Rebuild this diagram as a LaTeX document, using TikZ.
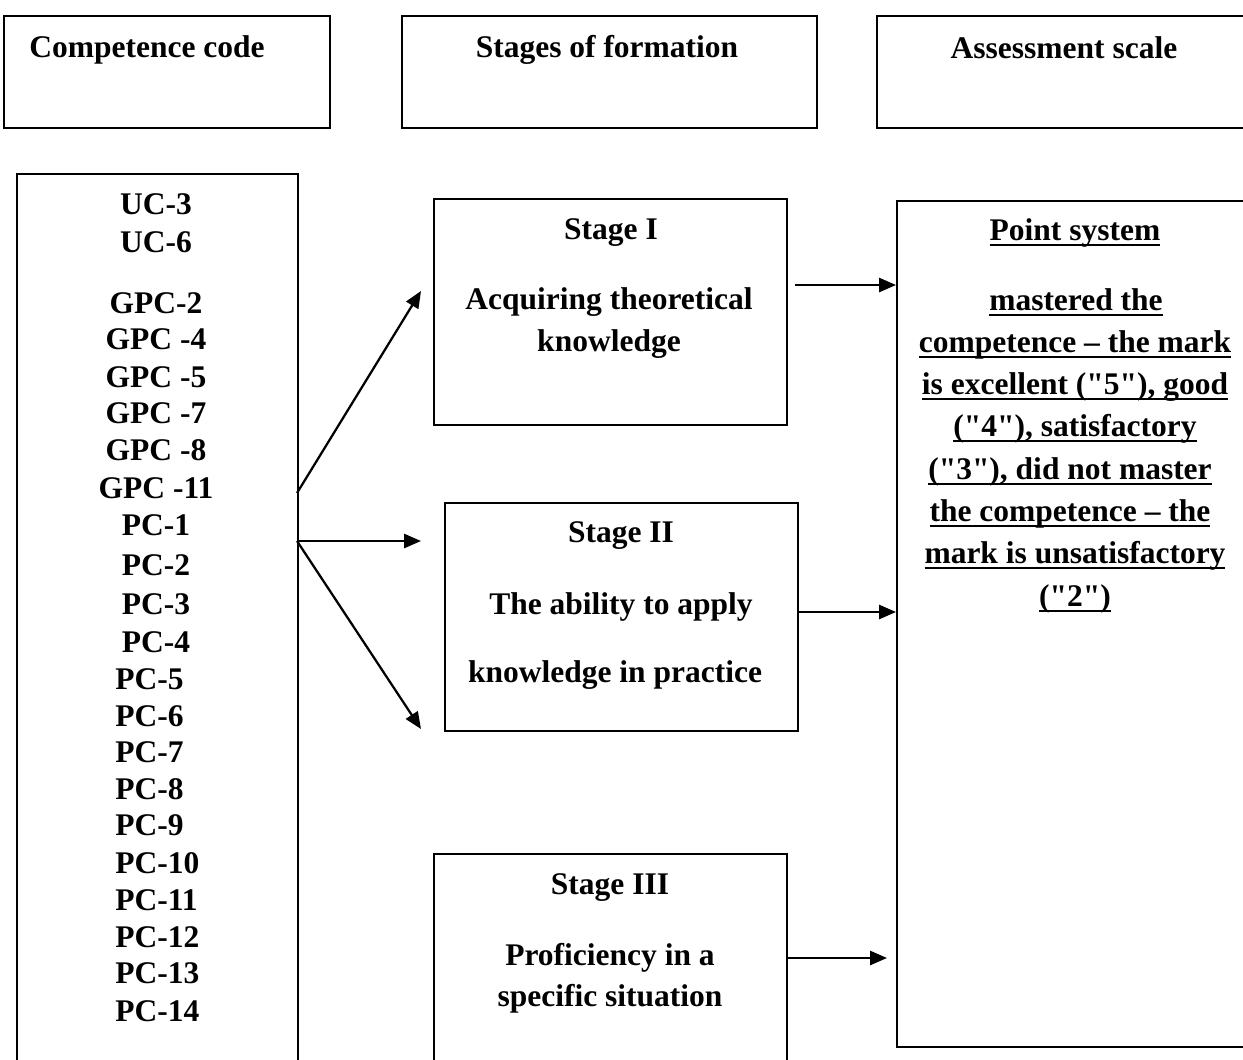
\documentclass[tikz,border=0pt]{standalone}
\usepackage{fontspec}
\setmainfont{Liberation Serif}
\newfontfamily\plainqfont{Liberation Serif}
\usetikzlibrary{arrows.meta}

% underline at a fixed depth below the baseline
\newcommand\ulbox[1]{\setbox0\hbox{#1}\rlap{\rule[-4pt]{\wd0}{1.4pt}}\box0}
% straight double quote (no TeX mapping)
\newcommand\dq{{\plainqfont\bfseries"}}

\tikzset{
  box/.style={draw, line width=1.2pt, inner sep=0pt, anchor=north west},
  lbl/.style={font=\fontsize{22.4}{26}\selectfont\bfseries, inner sep=0pt},
  link/.style={-{Triangle[length=12pt,width=10pt]}, line width=1.6pt},
}

\begin{document}
\begin{tikzpicture}[x=0.025cm, y=-0.025cm]
\useasboundingbox (0,0) rectangle (1243,1059);
\fill[white] (0,0) rectangle (1243,1059);
\clip (0,0) rectangle (1243,1059);

% header row
\node[box, line width=1.5pt, minimum width=8.15cm, minimum height=2.8cm] (hcode) at (3,15) {};
\node[box, line width=1.5pt, minimum width=10.375cm, minimum height=2.8cm] (hstage) at (401,15) {};
\node[box, line width=1.5pt, minimum width=9.6cm, minimum height=2.8cm] (hscale) at (876,15) {};
\node[lbl] (thcode) at (147,50) {Competence code};
\node[lbl] (thstage) at (607,50) {Stages of formation};
\node[lbl] (thscale) at (1064,48) {Assessment scale};

% competence codes
\node[box, minimum width=7.025cm, minimum height=22.675cm] (codes) at (16,173) {};
\foreach \code/\yy [count=\i] in {UC-3/204, UC-6/242, GPC-2/303, GPC -4/339, GPC -5/377,
    GPC -7/413, GPC -8/450, GPC -11/488, PC-1/525, PC-2/565, PC-3/604, PC-4/642}
  \node[lbl] (code\i) at (156,\yy) {\code};
\foreach \code/\yy [count=\i from 13] in {PC-5/679, PC-6/716, PC-7/752, PC-8/789, PC-9/825,
    PC-10/863, PC-11/900, PC-12/937, PC-13/973, PC-14/1011}
  \node[lbl, anchor=west] (code\i) at (115,\yy) {\code};

% stages
\node[box, minimum width=8.825cm, minimum height=5.65cm] (stageone) at (433,198) {};
\node[box, minimum width=8.825cm, minimum height=5.7cm] (stagetwo) at (444,502) {};
\node[box, minimum width=8.825cm, minimum height=5.675cm] (stagethree) at (433,853) {};
\node[lbl] (sone) at (611,233) {Stage I};
\node[lbl] (sonea) at (609,302) {Acquiring theoretical};
\node[lbl] (soneb) at (609,344) {knowledge};
\node[lbl] (stwo) at (621,536) {Stage II};
\node[lbl] (stwoa) at (621,607) {The ability to apply};
\node[lbl] (stwob) at (615,675) {knowledge in practice};
\node[lbl] (sthree) at (610,888) {Stage III};
\node[lbl] (sthreea) at (610,958) {Proficiency in a};
\node[lbl] (sthreeb) at (610,999) {specific situation};

% assessment
\node[box, minimum width=9.1cm, minimum height=21.15cm] (points) at (896,200) {};
\foreach \txt/\xx/\yy [count=\i] in {Point system/1075/233, mastered the/1076/302,
    competence -- the mark/1075/345, {is excellent (\dq5\dq), good}/1075/387,
    {(\dq4\dq), satisfactory}/1075/429, {(\dq3\dq), did not master}/1070/472,
    the competence -- the/1070/514, mark is unsatisfactory/1075/556, (\dq2\dq)/1075/599}
  \node[lbl] (pt\i) at (\xx,\yy) {\ulbox{\txt}};

% connectors
\coordinate (forka) at (297,493);
\coordinate (forkb) at (297,541);
\coordinate (tipa) at (421,291);
\coordinate (tipb) at (421,541);
\coordinate (tipc) at (421,729);
\coordinate (outa) at (795,285);
\coordinate (outb) at (797,612);
\coordinate (outc) at (786,958);
\coordinate (ina) at (896,285);
\coordinate (inb) at (896,612);
\coordinate (inc) at (887,958);
\draw[link] (forka) -- (tipa);
\draw[link] (forkb) -- (tipb);
\draw[link] (forkb) -- (tipc);
\draw[link] (outa) -- (ina);
\draw[link] (outb) -- (inb);
\draw[link] (outc) -- (inc);
\end{tikzpicture}
\end{document}
